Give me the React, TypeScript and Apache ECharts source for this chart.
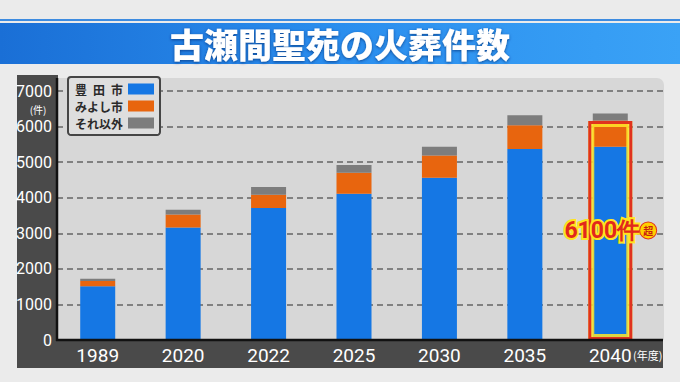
import React, { useEffect, useRef } from "react";
import * as echarts from "echarts";

const categories = ["1989", "2020", "2022", "2025", "2030", "2035", "2040"];
const toyotaCity = [1510, 3160, 3710, 4110, 4560, 5370, 5430];
const miyoshiCity = [150, 370, 370, 590, 630, 670, 740];
const others = [60, 130, 220, 220, 240, 280, 200];
const highlight = [null, null, null, null, null, null, 6160];
const seriesNames = ["豊\u2002田\u2002市", "みよし市", "それ以外"];
const yTicks = { min: 0, max: 7000, interval: 1000 };
const titleText = "古瀬間聖苑の火葬件数";
const calloutNumber = "6100件";
const calloutMark = "超";

const NUM = "Roboto, 'Liberation Sans', sans-serif";
const JP = "'Noto Sans CJK JP', 'Noto Sans', sans-serif";

export default function App() {
  const ref = useRef<HTMLDivElement>(null);
  useEffect(() => {
    if (!ref.current) return;
    const chart = echarts.init(ref.current, null, { renderer: "svg" });
    chart.setOption({
      animation: false,
      backgroundColor: "#ebebeb",
      title: {
        text: titleText,
        left: "center",
        top: 23,
        padding: 0,
        textStyle: {
          fontFamily: JP,
          fontSize: 34,
          fontWeight: 900,
          color: "#ffffff",
          lineHeight: 40,
          textShadowColor: "rgba(0,40,110,0.7)",
          textShadowBlur: 3,
          textShadowOffsetY: 1,
        },
      },
      graphic: [
        { type: "rect", z: -10, shape: { x: 0, y: 19, width: 680, height: 2 }, style: { fill: "#3d8be0" } },
        {
          type: "rect",
          z: -10,
          shape: { x: 0, y: 23, width: 680, height: 41 },
          style: {
            fill: new echarts.graphic.LinearGradient(0, 0, 1, 0, [
              { offset: 0, color: "#1a6fd6" },
              { offset: 0.5, color: "#2a8eee" },
              { offset: 1, color: "#3aa2f6" },
            ]),
          },
        },
        { type: "rect", z: -10, shape: { x: 17, y: 75, width: 41, height: 293 }, style: { fill: "#4a4a4a" } },
        { type: "rect", z: -10, shape: { x: 17, y: 340, width: 646, height: 28 }, style: { fill: "#4a4a4a" } },
        { type: "rect", z: -9, shape: { x: 58, y: 78, width: 606, height: 262, r: [0, 7, 0, 0] }, style: { fill: "#d7d7d7" } },
        { type: "line", z: 50, shape: { x1: 57, y1: 78, x2: 57, y2: 341 }, style: { stroke: "#111", lineWidth: 2.5 } },
        { type: "line", z: 50, shape: { x1: 56, y1: 340, x2: 663, y2: 340 }, style: { stroke: "#111", lineWidth: 2.5 } },
        {
          type: "text",
          z: 50,
          x: 38,
          y: 109,
          style: { text: "(件)", fill: "#ffffff", font: `10px ${JP}`, textAlign: "center", textVerticalAlign: "middle" },
        },
        {
          type: "text",
          z: 50,
          x: 633,
          y: 355,
          style: { text: "(年度)", fill: "#ffffff", font: `11px ${JP}`, textAlign: "left", textVerticalAlign: "middle" },
        },
      ],
      legend: {
        data: seriesNames,
        orient: "vertical",
        left: 68,
        top: 77,
        align: "right",
        padding: [6, 6, 6, 7],
        itemGap: 5,
        itemWidth: 26,
        itemHeight: 11,
        icon: "rect",
        backgroundColor: "#dedede",
        borderColor: "#454545",
        borderWidth: 2,
        borderRadius: 3,
        selectedMode: false,
        textStyle: { fontFamily: JP, fontSize: 12, fontWeight: "bold", color: "#2a2a2a", width: 46, align: "left" },
      },
      grid: [
        { left: 57, right: 17, top: 91, bottom: 42 },
        { left: 55, right: 27, top: 91, bottom: 42 },
      ],
      xAxis: [
        { gridIndex: 0, type: "value", show: false, min: 0, max: 1 },
        {
          gridIndex: 1,
          type: "category",
          data: categories,
          axisLine: { show: false },
          axisTick: { show: false },
          axisLabel: { color: "#ffffff", fontSize: 19, fontFamily: NUM, margin: 6 },
        },
        { gridIndex: 1, type: "category", data: categories, show: false },
      ],
      yAxis: [
        {
          gridIndex: 0,
          type: "value",
          min: yTicks.min,
          max: yTicks.max,
          interval: yTicks.interval,
          axisLine: { show: false },
          axisTick: { show: false },
          axisLabel: { color: "#ffffff", fontSize: 16, fontFamily: NUM, margin: 5, formatter: (v: number) => String(v) },
          splitLine: { lineStyle: { color: "#666666", width: 1.6, type: [6, 4] } },
        },
        { gridIndex: 1, type: "value", min: yTicks.min, max: yTicks.max, interval: yTicks.interval, show: false },
      ],
      series: [
        {
          name: seriesNames[0],
          type: "bar",
          stack: "total",
          xAxisIndex: 1,
          yAxisIndex: 1,
          barWidth: 35,
          data: toyotaCity,
          itemStyle: { color: "#1577e4" },
        },
        {
          name: seriesNames[1],
          type: "bar",
          stack: "total",
          xAxisIndex: 1,
          yAxisIndex: 1,
          barWidth: 35,
          data: miyoshiCity,
          itemStyle: { color: "#e8650e" },
        },
        {
          name: seriesNames[2],
          type: "bar",
          stack: "total",
          xAxisIndex: 1,
          yAxisIndex: 1,
          barWidth: 35,
          data: others,
          itemStyle: { color: "#7d7d7d" },
        },
        {
          name: "glow",
          type: "bar",
          xAxisIndex: 2,
          yAxisIndex: 1,
          barWidth: 44,
          barGap: "-100%",
          z: 5,
          data: highlight,
          itemStyle: { color: "rgba(0,0,0,0)", borderColor: "rgba(255,230,40,0.85)", borderWidth: 6 },
        },
        {
          name: "frame",
          type: "bar",
          xAxisIndex: 2,
          yAxisIndex: 1,
          barWidth: 44,
          barGap: "-100%",
          z: 6,
          data: highlight,
          itemStyle: { color: "rgba(0,0,0,0)", borderColor: "#e0321e", borderWidth: 3 },
          label: {
            show: true,
            position: "inside",
            formatter: `{n|${calloutNumber}}{c|${calloutMark}}`,
            rich: {
              n: {
                fontFamily: NUM,
                fontSize: 23,
                fontWeight: "bold",
                color: "#e2281c",
                textBorderColor: "#ffe41e",
                textBorderWidth: 4,
              },
              c: {
                fontFamily: JP,
                fontSize: 10,
                fontWeight: "bold",
                color: "#c81e10",
                backgroundColor: "#ffd000",
                borderColor: "#e0321e",
                borderWidth: 1,
                borderRadius: 9,
                width: 16,
                height: 16,
                align: "center",
                lineHeight: 16,
              },
            },
          },
        },
      ],
    });
    return () => chart.dispose();
  }, []);
  return <div ref={ref} style={{ position: "fixed", left: 0, top: 0, width: 680, height: 382 }} />;
}
